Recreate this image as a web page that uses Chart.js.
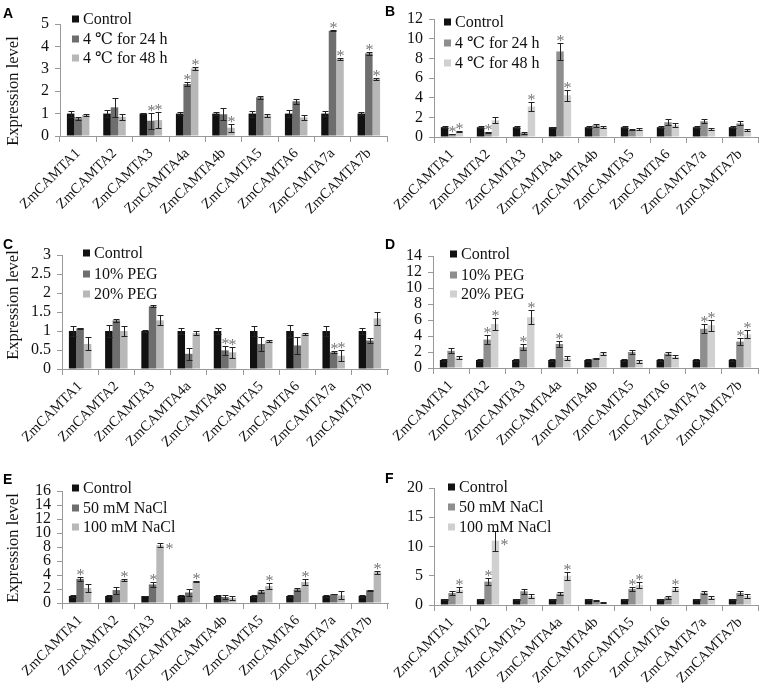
<!DOCTYPE html>
<html>
<head>
<meta charset="utf-8">
<script src="https://cdn.jsdelivr.net/npm/chart.js@4.4.1/dist/chart.umd.min.js"></script>
<style>
  body { margin: 0; background: #fff; }
  #wrap { position: relative; width: 767px; height: 699px; }
  canvas { position: absolute; left: 0; top: 0; }
</style>
</head>
<body>
<div id="wrap">
  <canvas id="pA" width="767" height="699"></canvas>
  <canvas id="pB" width="767" height="699"></canvas>
  <canvas id="pC" width="767" height="699"></canvas>
  <canvas id="pD" width="767" height="699"></canvas>
  <canvas id="pE" width="767" height="699"></canvas>
  <canvas id="pF" width="767" height="699"></canvas>
</div>
<script>
const genes = ["ZmCAMTA1", "ZmCAMTA2", "ZmCAMTA3", "ZmCAMTA4a", "ZmCAMTA4b",
  "ZmCAMTA5", "ZmCAMTA6", "ZmCAMTA7a", "ZmCAMTA7b"];

const control = [1, 1, 1, 1, 1, 1, 1, 1, 1];

// A: cold, 4 C
const coldA24 = [0.79, 1.28, 0.68, 2.32, 0.97, 1.73, 1.55, 4.70, 3.69];
const coldA48 = [0.94, 0.86, 0.71, 3.02, 0.37, 0.92, 0.83, 3.44, 2.55];
const errACtrl = [0.13, 0.15, 0.02, 0.07, 0.07, 0.13, 0.16, 0.1, 0.07];
const errA24 = [0.07, 0.42, 0.35, 0.08, 0.27, 0.06, 0.1, 0.02, 0.06];
const errA48 = [0.05, 0.13, 0.35, 0.08, 0.18, 0.05, 0.1, 0.05, 0.05];
const starA24 = [0, 0, 1, 1, 0, 0, 0, 1, 1];
const starA48 = [0, 0, 1, 1, 1, 0, 0, 1, 1];

// B: cold, 4 C
const coldB24 = [0.3, 0.5, 0.4, 8.7, 1.2, 0.72, 1.5, 1.6, 1.38];
const coldB48 = [0.58, 1.7, 3.1, 4.25, 1.0, 0.77, 1.2, 0.78, 0.7];
const errBCtrl = [0.08, 0.08, 0.08, 0.06, 0.08, 0.08, 0.08, 0.08, 0.08];
const errB24 = [0.03, 0.05, 0.1, 0.85, 0.15, 0.05, 0.3, 0.2, 0.2];
const errB48 = [0.08, 0.3, 0.45, 0.55, 0.12, 0.1, 0.2, 0.1, 0.08];
const starB24 = [1, 1, 0, 1, 0, 0, 0, 0, 0];
const starB48 = [1, 0, 1, 1, 0, 0, 0, 0, 0];

// C: PEG
const pegC10 = [1.07, 1.28, 1.65, 0.4, 0.49, 0.66, 0.62, 0.44, 0.75];
const pegC20 = [0.66, 1.0, 1.28, 0.95, 0.44, 0.74, 0.92, 0.35, 1.33];
const errCCtrl = [0.12, 0.15, 0.02, 0.08, 0.07, 0.13, 0.17, 0.12, 0.07];
const errC10 = [0.02, 0.03, 0.03, 0.15, 0.12, 0.18, 0.22, 0.03, 0.06];
const errC20 = [0.17, 0.13, 0.13, 0.06, 0.15, 0.03, 0.02, 0.15, 0.17];
const starC10 = [0, 0, 0, 0, 1, 0, 0, 1, 0];
const starC20 = [0, 0, 0, 0, 1, 0, 0, 1, 0];

// D: PEG
const pegD10 = [2.15, 3.55, 2.6, 3.0, 1.2, 2.0, 1.8, 4.9, 3.3];
const pegD20 = [1.3, 5.5, 6.35, 1.25, 1.85, 0.85, 1.4, 5.35, 4.2];
const errDCtrl = [0.1, 0.1, 0.1, 0.1, 0.1, 0.1, 0.1, 0.1, 0.1];
const errD10 = [0.3, 0.55, 0.35, 0.35, 0.1, 0.25, 0.2, 0.55, 0.4];
const errD20 = [0.2, 0.8, 0.85, 0.25, 0.2, 0.2, 0.2, 0.7, 0.5];
const starD10 = [0, 1, 1, 1, 0, 0, 0, 1, 1];
const starD20 = [0, 1, 1, 0, 0, 0, 0, 1, 1];

// E: NaCl
const saltE50 = [3.45, 1.85, 2.65, 1.5, 0.85, 1.65, 1.95, 1.25, 1.8];
const saltE100 = [2.15, 3.3, 8.25, 3.1, 0.7, 2.4, 3.0, 1.1, 4.4];
const errECtrl = [0.1, 0.15, 0.05, 0.1, 0.15, 0.1, 0.2, 0.15, 0.1];
const errE50 = [0.25, 0.5, 0.35, 0.55, 0.3, 0.15, 0.2, 0.03, 0.1];
const errE100 = [0.55, 0.15, 0.3, 0.1, 0.25, 0.45, 0.4, 0.55, 0.2];
const starE50 = [1, 0, 1, 0, 0, 0, 0, 0, 0];
const starE100 = [0, 1, 2, 1, 0, 1, 1, 0, 1];

// F: NaCl
const saltF50 = [2.05, 4.0, 2.35, 1.95, 0.75, 2.75, 1.3, 2.1, 2.05];
const saltF100 = [2.6, 11.0, 1.5, 5.0, 0.45, 3.4, 2.75, 1.25, 1.55];
const errFCtrl = [0.1, 0.1, 0.1, 0.1, 0.1, 0.1, 0.1, 0.1, 0.1];
const errF50 = [0.3, 0.55, 0.45, 0.2, 0.05, 0.3, 0.2, 0.25, 0.3];
const errF100 = [0.4, 1.7, 0.35, 0.7, 0.05, 0.55, 0.4, 0.3, 0.3];
const starF50 = [0, 1, 0, 0, 0, 1, 0, 0, 0];
const starF100 = [1, 2, 0, 1, 0, 1, 1, 0, 0];

const coldNames = ["Control", "4 \u2103 for 24 h", "4 \u2103 for 48 h"];
const pegNames = ["Control", "10% PEG", "20% PEG"];
const saltNames = ["Control", "50 mM NaCl", "100 mM NaCl"];

const SERIF = "'Liberation Serif', 'DejaVu Serif', serif";
const YW = 40, XH = 88;

// error bars, asterisks, legend, panel letter, y title
const decor = {
  id: "decor",
  afterDatasetsDraw(chart) {
    const ctx = chart.ctx, y = chart.scales.y;
    ctx.save();
    chart.data.datasets.forEach((ds, i) => {
      chart.getDatasetMeta(i).data.forEach((bar, j) => {
        const v = ds.data[j], e = ds.err[j];
        const x = Math.round(bar.x) + 0.5;
        const yt = Math.round(y.getPixelForValue(v + e)) + 0.5;
        const yb = Math.round(y.getPixelForValue(Math.max(v - e, 0))) + 0.5;
        ctx.strokeStyle = "#222";
        ctx.lineWidth = 1;
        ctx.beginPath();
        ctx.moveTo(x, yt); ctx.lineTo(x, yb);
        ctx.moveTo(x - 3, yt); ctx.lineTo(x + 3, yt);
        ctx.moveTo(x - 3, yb); ctx.lineTo(x + 3, yb);
        ctx.stroke();
        const s = ds.stars ? ds.stars[j] : 0;
        if (s) {
          ctx.fillStyle = "#777";
          ctx.font = "16px " + SERIF;
          ctx.textAlign = "center";
          ctx.textBaseline = "alphabetic";
          if (s === 1) ctx.fillText("*", x, yt + 2);
          else ctx.fillText("*", x + 9, y.getPixelForValue(v) + 9);
        }
      });
    });
    ctx.restore();
  },
  afterDraw(chart, args, o) {
    const ctx = chart.ctx;
    ctx.save();
    ctx.font = "16px " + SERIF;
    ctx.textAlign = "left";
    ctx.textBaseline = "middle";
    chart.data.datasets.forEach((ds, i) => {
      const yy = o.legend.rows[i];
      ctx.fillStyle = ds.backgroundColor;
      ctx.fillRect(o.legend.x, yy - 3.5, 7, 7);
      ctx.fillStyle = "#111";
      ctx.fillText(ds.label, o.legend.x + 11, yy + 1);
    });
    ctx.font = "bold 14px 'Liberation Sans', sans-serif";
    ctx.fillStyle = "#000";
    ctx.textBaseline = "top";
    ctx.fillText(o.letter, o.letterX, o.letterY);
    if (o.titleY) {
      ctx.translate(14, o.titleY);
      ctx.rotate(-Math.PI / 2);
      ctx.font = "16.5px " + SERIF;
      ctx.textAlign = "center";
      ctx.textBaseline = "middle";
      ctx.fillStyle = "#111";
      ctx.fillText("Expression level", 0, 0);
    }
    ctx.restore();
  }
};

function makePanel(id, p) {
  const names = p.names;
  const sets = [control, p.s1, p.s2];
  const errs = [p.e0, p.e1, p.e2];
  const stars = [null, p.t1, p.t2];
  const colors = ["#111111", p.c1, p.c2];
  return new Chart(document.getElementById(id), {
    type: "bar",
    data: {
      labels: genes,
      datasets: sets.map((d, i) => ({
        label: names[i],
        data: d,
        err: errs[i],
        stars: stars[i],
        backgroundColor: colors[i],
        categoryPercentage: 0.62,
        barPercentage: 1.0
      }))
    },
    options: {
      responsive: false,
      animation: false,
      devicePixelRatio: 1,
      layout: {
        padding: {
          left: p.area[0] - YW,
          right: 767 - p.area[1],
          top: p.area[2],
          bottom: 699 - p.area[3] - XH
        }
      },
      scales: {
        x: {
          afterFit: (s) => { s.height = XH; },
          grid: { drawOnChartArea: false, tickLength: 6, color: "#999" },
          border: { color: "#999" },
          ticks: {
            autoSkip: false, minRotation: 45, maxRotation: 45, padding: 3,
            color: "#111", font: { family: SERIF, size: 14.5 }
          }
        },
        y: {
          min: 0, max: p.max,
          afterFit: (s) => { s.width = YW; },
          grid: { drawOnChartArea: false, tickLength: 5, color: "#999" },
          border: { color: "#999" },
          ticks: {
            stepSize: p.step, autoSkip: false, padding: 6, color: "#111",
            font: { family: SERIF, size: 16 },
            callback: (v) => String(+v.toFixed(2))
          }
        }
      },
      plugins: {
        legend: { display: false },
        tooltip: { enabled: false },
        decor: {
          legend: p.legend,
          letter: p.letter, letterX: p.lx, letterY: p.ly,
          titleY: p.titleY
        }
      }
    },
    plugins: [decor]
  });
}

makePanel("pA", {
  names: coldNames, s1: coldA24, s2: coldA48, e0: errACtrl, e1: errA24, e2: errA48,
  t1: starA24, t2: starA48, c1: "#6e6e6e", c2: "#b8b8b8",
  max: 5, step: 1, area: [60, 387, 24, 136],
  legend: { x: 72, rows: [19, 39, 58] }, letter: "A", lx: 3, ly: 7, titleY: 91
});
makePanel("pB", {
  names: coldNames, s1: coldB24, s2: coldB48, e0: errBCtrl, e1: errB24, e2: errB48,
  t1: starB24, t2: starB48, c1: "#8e8e8e", c2: "#d0d0d0",
  max: 12, step: 2, area: [434, 758, 19, 137],
  legend: { x: 444, rows: [22, 43, 63] }, letter: "B", lx: 385, ly: 5
});
makePanel("pC", {
  names: pegNames, s1: pegC10, s2: pegC20, e0: errCCtrl, e1: errC10, e2: errC20,
  t1: starC10, t2: starC20, c1: "#6e6e6e", c2: "#b8b8b8",
  max: 3, step: 0.5, area: [62, 388, 255, 369],
  legend: { x: 83, rows: [253, 274, 294] }, letter: "C", lx: 3, ly: 238, titleY: 305
});
makePanel("pD", {
  names: pegNames, s1: pegD10, s2: pegD20, e0: errDCtrl, e1: errD10, e2: errD20,
  t1: starD10, t2: starD20, c1: "#8e8e8e", c2: "#d0d0d0",
  max: 14, step: 2, area: [433, 758, 256, 368],
  legend: { x: 450, rows: [254, 275, 294] }, letter: "D", lx: 385, ly: 238
});
makePanel("pE", {
  names: saltNames, s1: saltE50, s2: saltE100, e0: errECtrl, e1: errE50, e2: errE100,
  t1: starE50, t2: starE100, c1: "#6e6e6e", c2: "#b8b8b8",
  max: 16, step: 2, area: [62, 388, 491, 603],
  legend: { x: 72, rows: [488, 508, 527] }, letter: "E", lx: 3, ly: 473, titleY: 548
});
makePanel("pF", {
  names: saltNames, s1: saltF50, s2: saltF100, e0: errFCtrl, e1: errF50, e2: errF100,
  t1: starF50, t2: starF100, c1: "#8e8e8e", c2: "#d0d0d0",
  max: 20, step: 5, area: [434, 758, 488, 605],
  legend: { x: 448, rows: [487, 507, 527] }, letter: "F", lx: 385, ly: 472
});
</script>
</body>
</html>
